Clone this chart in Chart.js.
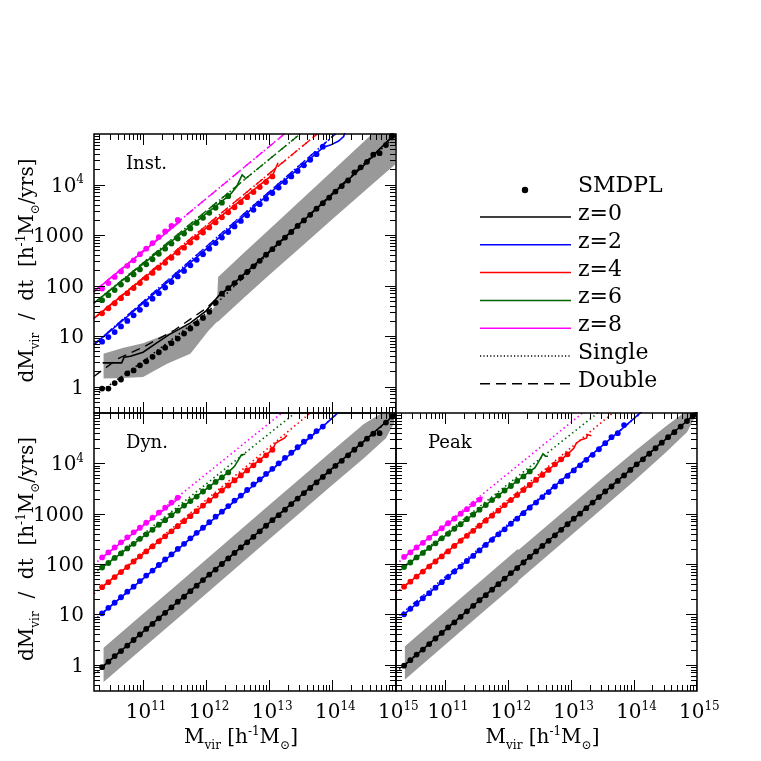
<!DOCTYPE html>
<html lang="en">
<head>
<meta charset="UTF-8">
<title>Halo accretion rates</title>
<script src="https://cdn.jsdelivr.net/npm/chart.js"></script>
<style>
  html, body { margin: 0; padding: 0; background: #fff; }
  #wrap { position: relative; width: 761px; height: 761px; }
  canvas { position: absolute; left: 0; top: 0; }
</style>
</head>
<body>
<div id="wrap">
  <canvas id="inst" width="761" height="761"></canvas>
  <canvas id="dyn" width="761" height="761"></canvas>
  <canvas id="peak" width="761" height="761"></canvas>
</div>
<script>
// log10(Mvir) of the SMDPL points
const LOGM = [10.35,10.45,10.55,10.65,10.75,10.85,10.95,11.05,11.15,11.25,11.35,11.45,11.55,11.65,11.75,11.85,11.95,
  12.05,12.15,12.25,12.35,12.45,12.55,12.65,12.75,12.85,12.95,13.05,13.15,13.25,13.35,13.45,13.55,13.65,13.75,13.85,
  13.95,14.05,14.15,14.25,14.35,14.45,14.55,14.65,14.75,14.85,14.95];

const LABELS = ['z=0', 'z=2', 'z=4', 'z=6', 'z=8'];
const COLORS = ['#000000', '#0000ff', '#ff0000', '#006400', '#ff00ff'];

// ---- Inst. (log10 dM/dt) ----
const INST_Z0 = [-0.04,-0.04,0.07,0.14,0.26,0.32,0.42,0.50,0.59,0.68,0.77,0.86,0.95,1.05,1.15,1.25,1.36,1.48,1.66,1.84,
  1.95,2.05,2.16,2.27,2.38,2.49,2.61,2.72,2.84,2.95,3.06,3.18,3.29,3.40,3.52,3.63,3.74,3.86,3.97,4.08,4.24,4.34,4.45,4.59,4.62,4.78,4.96];
const INST_Z2 = [0.89,0.98,1.08,1.19,1.30,1.41,1.52,1.63,1.74,1.85,1.96,2.07,2.18,2.29,2.40,2.51,2.62,2.73,2.84,2.95,
  3.06,3.17,3.28,3.39,3.50,3.61,3.72,3.83,3.94,4.05,4.16,4.27,4.38,4.49,4.60,4.75];
const INST_Z4 = [1.45,1.55,1.65,1.75,1.85,1.95,2.05,2.15,2.25,2.35,2.45,2.55,2.65,2.75,2.85,2.95,3.05,3.15,3.25,3.35,
  3.45,3.55,3.65,3.75,3.85,3.95,4.05,4.16];
const INST_Z6 = [1.71,1.81,1.91,2.02,2.12,2.22,2.32,2.42,2.52,2.63,2.73,2.83,2.93,3.03,3.13,3.24,3.34,3.44,3.54,3.64,3.77];
const INST_Z8 = [1.94,2.05,2.17,2.28,2.39,2.50,2.62,2.73,2.84,2.96,3.07,3.18,3.30];

const INST_SOLID = [
  [[10.36,0.47],[10.66,0.47],[10.70,0.58],[10.80,0.60],[11.0,0.68],[11.2,0.85],[11.4,1.02],[11.75,1.26],[12.0,1.5],
   [12.2,1.8],[12.4,2.0],[13.0,2.67],[14.05,3.86],[14.5,4.38],[14.97,4.98]],
  [[10.24,0.85],[10.5,1.12],[11.0,1.65],[12.0,2.72],[13.0,3.82],[13.86,4.74],[13.97,4.78],[14.10,4.86],[14.18,4.95],[14.22,5.1]],
  [[10.24,1.37],[13.06,4.2],[13.14,4.43]],
  [[10.24,1.67],[12.38,3.8],[12.48,3.95],[12.57,4.19],[12.62,4.13]],
  [[10.24,1.9],[11.6,3.28]]
];
const INST_SINGLE = [
  [[10.3,-0.12],[11.0,0.5],[12.0,1.45],[12.5,2.05],[13.0,2.65],[14.0,3.82],[15.0,4.95]],
  [[10.22,0.83],[14.05,5.0]],
  [[10.22,1.35],[13.76,5.0]],
  [[10.22,1.65],[13.49,5.0]],
  [[10.22,1.88],[13.24,5.0]]
];
const INST_DOUBLE = [
  [[10.22,0.2],[10.6,0.55],[11.0,0.78],[11.5,1.12],[12.0,1.55],[12.4,2.0],[13.0,2.67],[14.0,3.82],[15.0,5.0]],
  [[10.22,0.83],[14.05,5.0]],
  [[10.22,1.35],[13.76,5.0]],
  [[10.22,1.65],[13.49,5.0]],
  [[10.22,1.88],[13.24,5.0]]
];
const INST_BAND_X  = [10.37,10.69,11.0,11.38,11.75,12.04,12.17,12.19,12.6,13.0,13.5,14.0,14.63,15.0];
const INST_BAND_HI = [0.65,0.77,0.86,1.04,1.24,1.45,1.63,2.17,2.65,3.11,3.69,4.27,5.0,5.4];
const INST_BAND_LO = [0.16,0.17,0.19,0.45,0.65,1.11,1.28,1.29,1.76,2.21,2.76,3.31,4.0,4.40];

// ---- Dyn. ----
const DYN_Z0 = [-0.05,0.06,0.17,0.27,0.38,0.49,0.60,0.71,0.81,0.92,1.03,1.14,1.25,1.35,1.46,1.57,1.68,1.79,1.89,2.00,
  2.11,2.22,2.33,2.43,2.54,2.65,2.76,2.87,2.97,3.08,3.19,3.30,3.41,3.51,3.62,3.73,3.84,3.95,4.05,4.16,4.27,4.38,4.49,4.59,4.60,4.81,4.93];
const DYN_Z2 = [1.02,1.13,1.23,1.34,1.45,1.55,1.66,1.77,1.87,1.98,2.09,2.19,2.30,2.40,2.51,2.62,2.72,2.83,2.94,3.04,
  3.15,3.26,3.36,3.47,3.58,3.68,3.79,3.89,4.00,4.11,4.21,4.32,4.43,4.53,4.64,4.73];
const DYN_Z4 = [1.54,1.64,1.74,1.84,1.94,2.05,2.15,2.25,2.35,2.45,2.55,2.65,2.75,2.85,2.95,3.05,3.16,3.26,3.36,3.46,
  3.56,3.66,3.76,3.86,3.96,4.06,4.16,4.27];
const DYN_Z6 = [1.93,2.02,2.12,2.21,2.31,2.40,2.50,2.59,2.68,2.78,2.87,2.97,3.06,3.16,3.25,3.34,3.44,3.53,3.63,3.72,3.82];
const DYN_Z8 = [2.13,2.23,2.33,2.43,2.53,2.63,2.72,2.82,2.92,3.02,3.12,3.22,3.32];

const DYN_SOLID = [
  [[10.35,-0.05],[14.95,4.93],[15.02,5.0]],
  [[10.35,1.02],[13.85,4.73],[14.12,5.04]],
  [[10.35,1.54],[13.05,4.27],[13.1,4.40],[13.18,4.46],[13.24,4.50],[13.28,4.56]],
  [[10.35,1.93],[12.35,3.82],[12.45,3.94],[12.56,4.17],[12.62,4.18]],
  [[10.35,2.13],[11.6,3.34]]
];
const DYN_SINGLE = [
  [[10.22,-0.19],[15.0,4.97]],
  [[10.22,0.88],[14.09,5.0]],
  [[10.22,1.41],[13.65,5.0]],
  [[10.22,1.81],[13.41,5.0]],
  [[10.22,1.99],[13.2,5.0]]
];
const DYN_BAND_X  = [10.37,11.0,11.5,12.0,12.5,13.0,13.5,14.0,14.5,14.85,14.98];
const DYN_BAND_HI = [0.33,1.01,1.55,2.09,2.63,3.17,3.71,4.25,4.78,5.05,5.10];
const DYN_BAND_LO = [-0.35,0.33,0.87,1.41,1.95,2.49,3.03,3.57,4.10,4.50,4.80];

// ---- Peak ----
const PEAK_Z0 = [-0.02,0.09,0.20,0.30,0.41,0.52,0.63,0.74,0.84,0.95,1.06,1.17,1.28,1.38,1.49,1.60,1.71,1.82,1.92,2.03,
  2.14,2.25,2.36,2.46,2.57,2.68,2.79,2.90,3.00,3.11,3.22,3.33,3.44,3.54,3.65,3.76,3.87,3.98,4.08,4.19,4.30,4.41,4.52,4.62,4.73,4.84,4.95];
const PEAK_Z2 = [1.00,1.11,1.21,1.32,1.42,1.53,1.64,1.74,1.85,1.95,2.06,2.16,2.27,2.38,2.48,2.59,2.69,2.80,2.90,3.01,
  3.12,3.22,3.33,3.43,3.54,3.64,3.75,3.86,3.96,4.07,4.17,4.28,4.40,4.52,4.60,4.76];
const PEAK_Z4 = [1.55,1.65,1.75,1.85,1.95,2.05,2.15,2.25,2.36,2.46,2.56,2.66,2.76,2.86,2.96,3.06,3.17,3.27,3.37,3.47,
  3.57,3.67,3.77,3.87,3.98,4.08,4.18];
const PEAK_Z6 = [1.94,2.03,2.13,2.22,2.32,2.41,2.51,2.60,2.70,2.79,2.89,2.98,3.08,3.17,3.27,3.36,3.46,3.55,3.65,3.74,3.84];
const PEAK_Z8 = [2.14,2.23,2.33,2.42,2.52,2.61,2.71,2.81,2.90,3.00,3.09,3.19,3.28];

const PEAK_SOLID = [
  [[10.35,-0.02],[14.95,4.95],[15.02,5.03]],
  [[10.35,1.0],[13.85,4.72],[14.15,5.05]],
  [[10.35,1.55],[12.95,4.18],[13.05,4.30],[13.09,4.40],[13.17,4.47],[13.25,4.50],[13.27,4.57],[13.33,4.55]],
  [[10.35,1.94],[12.35,3.84],[12.43,3.91],[12.48,4.01],[12.56,4.19],[12.60,4.14],[12.64,4.14]],
  [[10.35,2.14],[11.6,3.33]]
];
const PEAK_SINGLE = [
  [[10.22,-0.15],[15.0,5.01]],
  [[10.22,0.92],[14.12,5.0]],
  [[10.22,1.42],[13.67,5.0]],
  [[10.22,1.82],[13.43,5.0]],
  [[10.22,1.99],[13.19,5.0]]
];
const PEAK_BAND_X  = [10.36,11.0,11.5,12.16,12.17,13.0,13.5,14.0,14.5,14.85,14.97];
const PEAK_BAND_HI = [0.36,1.05,1.59,2.30,2.28,3.16,3.70,4.22,4.72,5.05,5.05];
const PEAK_BAND_LO = [-0.30,0.39,0.93,1.64,1.67,2.56,3.10,3.64,4.20,4.62,4.90];

const XMIN = 10 ** 10.222, XMAX = 10 ** 15.01;
const YMIN = 10 ** -0.48, YMAX = 1e5;
const FONT = '"DejaVu Serif", serif';
const GRAY = '#999999';

const pts = arr => arr.map(([lx, ly]) => ({ x: 10 ** lx, y: 10 ** ly }));
const dots = ys => ys.map((ly, i) => ({ x: 10 ** LOGM[i], y: 10 ** ly }));

// text with sub/superscripts, parts = [[text, 'n'|'sub'|'sup'], ...]
function rich(ctx, parts, x, y, size, align) {
  const small = Math.round(size * 0.62);
  const fontOf = k => (k === 'n' ? size : small) + 'px ' + FONT;
  let w = 0;
  parts.forEach(([t, k]) => { ctx.font = fontOf(k); w += ctx.measureText(t).width; });
  let cx = align === 'center' ? x - w / 2 : align === 'right' ? x - w : x;
  ctx.textAlign = 'left';
  ctx.textBaseline = 'alphabetic';
  parts.forEach(([t, k]) => {
    ctx.font = fontOf(k);
    const dy = k === 'sub' ? size * 0.3 : k === 'sup' ? -size * 0.42 : 0;
    ctx.fillText(t, cx, y + dy);
    cx += ctx.measureText(t).width;
  });
}

const Y_TITLE = [['dM','n'],['vir','sub'],['  /  dt  [h','n'],['-1','sup'],['M','n'],['\u2299','sub'],['/yrs]','n']];
const X_TITLE = [['M','n'],['vir','sub'],[' [h','n'],['-1','sup'],['M','n'],['\u2299','sub'],[']','n']];
const Y_TICK_TEXT = { '0': [['1','n']], '1': [['10','n']], '2': [['100','n']], '3': [['1000','n']], '4': [['10','n'],['4','sup']] };

const deco = {
  id: 'deco',
  afterDatasetsDraw(chart, args, o) {
    const { ctx, chartArea: a, scales: { x, y } } = chart;
    ctx.save();
    ctx.strokeStyle = '#000';
    ctx.fillStyle = '#000';
    ctx.lineWidth = 1;
    ctx.beginPath();
    for (let e = 10; e <= 15; e++) {
      for (let k = 1; k <= 9; k++) {
        const v = k * 10 ** e;
        if (v < x.min * 1.001 || v > x.max * 0.999) continue;
        const px = Math.round(x.getPixelForValue(v)) + 0.5;
        const len = k === 1 ? 11 : 6;
        ctx.moveTo(px, a.bottom); ctx.lineTo(px, a.bottom - len);
        ctx.moveTo(px, a.top); ctx.lineTo(px, a.top + len);
      }
    }
    for (let e = -1; e <= 5; e++) {
      for (let k = 1; k <= 9; k++) {
        const v = k * 10 ** e;
        if (v < y.min * 1.001 || v > y.max * 0.999) continue;
        const py = Math.round(y.getPixelForValue(v)) + 0.5;
        const len = k === 1 ? 11 : 6;
        ctx.moveTo(a.left, py); ctx.lineTo(a.left + len, py);
        ctx.moveTo(a.right, py); ctx.lineTo(a.right - len, py);
      }
    }
    ctx.stroke();
    ctx.lineWidth = 1.5;
    ctx.strokeRect(a.left, a.top, a.right - a.left, a.bottom - a.top);

    if (o.yLabels) {
      for (let e = 0; e <= 4; e++) {
        rich(ctx, Y_TICK_TEXT[e], 84, y.getPixelForValue(10 ** e) + 7, 20, 'right');
      }
      ctx.save();
      ctx.translate(33, (a.top + a.bottom) / 2 - 3);
      ctx.rotate(-Math.PI / 2);
      rich(ctx, Y_TITLE, 0, 0, 20, 'center');
      ctx.restore();
    }
    if (o.xLabels) {
      for (let e = 11; e <= 15; e++) {
        rich(ctx, [['10','n'],[String(e),'sup']], x.getPixelForValue(10 ** e) + 3, 718, 20, 'center');
      }
      rich(ctx, X_TITLE, (a.left + a.right) / 2 - 4, 743, 20, 'center');
    }
    ctx.font = '18px ' + FONT;
    ctx.textAlign = 'left';
    ctx.fillText(o.name, a.left + 32, a.top + 35);

    if (o.legend) {
      ctx.beginPath();
      ctx.arc(525, 190, 3.2, 0, Math.PI * 2);
      ctx.fill();
      ctx.font = '22px ' + FONT;
      ctx.fillText('SMDPL', 578, 192);
      const rows = LABELS.concat(['Single', 'Double']);
      rows.forEach((lab, i) => {
        const ly = 217 + i * 27.8;
        ctx.beginPath();
        ctx.lineWidth = 1.5;
        ctx.strokeStyle = i < 5 ? COLORS[i] : '#000';
        ctx.setLineDash(i === 5 ? [1.2, 2.2] : i === 6 ? [10, 6] : []);
        ctx.moveTo(480, ly); ctx.lineTo(571, ly);
        ctx.stroke();
        ctx.setLineDash([]);
        ctx.fillText(lab, 578, ly + 3);
      });
    }
    ctx.restore();
  }
};

function panel(id, area, opts, z, solid, single, dbl, band) {
  const datasets = [];
  z.forEach((ys, i) => datasets.push({
    data: dots(ys), showLine: false, pointRadius: 2.9, pointBorderWidth: 0,
    pointBackgroundColor: COLORS[i], order: 1, clip: 5
  }));
  solid.forEach((p, i) => datasets.push({
    data: pts(p), showLine: true, borderColor: COLORS[i], borderWidth: 1.6, pointRadius: 0, order: 2, clip: 1
  }));
  single.forEach((p, i) => datasets.push({
    data: pts(p), showLine: true, borderColor: COLORS[i], borderWidth: 1.6, borderDash: [1.5, 3],
    pointRadius: 0, order: 3, clip: 1
  }));
  dbl.forEach((p, i) => datasets.push({
    data: pts(p), showLine: true, borderColor: COLORS[i], borderWidth: 1.4, borderDash: [9, 6],
    pointRadius: 0, order: 3, clip: 1
  }));
  const [bx, hi, lo] = band;
  datasets.push({
    data: pts(bx.map((v, i) => [v, hi[i]])), showLine: true, borderWidth: 0, pointRadius: 0,
    backgroundColor: GRAY, fill: '+1', order: 9, clip: 0
  });
  datasets.push({
    data: pts(bx.map((v, i) => [v, lo[i]])), showLine: true, borderWidth: 0, pointRadius: 0,
    fill: false, order: 9, clip: 0
  });

  return new Chart(document.getElementById(id), {
    type: 'line',
    data: { datasets },
    options: {
      responsive: false,
      animation: false,
      events: [],
      layout: { padding: { left: area[0], top: area[1], right: 761 - area[2], bottom: 761 - area[3] } },
      scales: {
        x: { type: 'logarithmic', min: XMIN, max: XMAX, display: false },
        y: { type: 'logarithmic', min: YMIN, max: YMAX, display: false }
      },
      plugins: { legend: { display: false }, tooltip: { enabled: false }, deco: opts }
    },
    plugins: [deco]
  });
}

panel('inst', [94, 134, 396, 413], { name: 'Inst.', yLabels: true, legend: true },
  [INST_Z0, INST_Z2, INST_Z4, INST_Z6, INST_Z8], INST_SOLID, INST_SINGLE, INST_DOUBLE,
  [INST_BAND_X, INST_BAND_HI, INST_BAND_LO]);
panel('dyn', [94, 413, 396, 691], { name: 'Dyn.', yLabels: true, xLabels: true },
  [DYN_Z0, DYN_Z2, DYN_Z4, DYN_Z6, DYN_Z8], DYN_SOLID, DYN_SINGLE, [],
  [DYN_BAND_X, DYN_BAND_HI, DYN_BAND_LO]);
panel('peak', [396, 413, 697, 691], { name: 'Peak', xLabels: true },
  [PEAK_Z0, PEAK_Z2, PEAK_Z4, PEAK_Z6, PEAK_Z8], PEAK_SOLID, PEAK_SINGLE, [],
  [PEAK_BAND_X, PEAK_BAND_HI, PEAK_BAND_LO]);
</script>
</body>
</html>
